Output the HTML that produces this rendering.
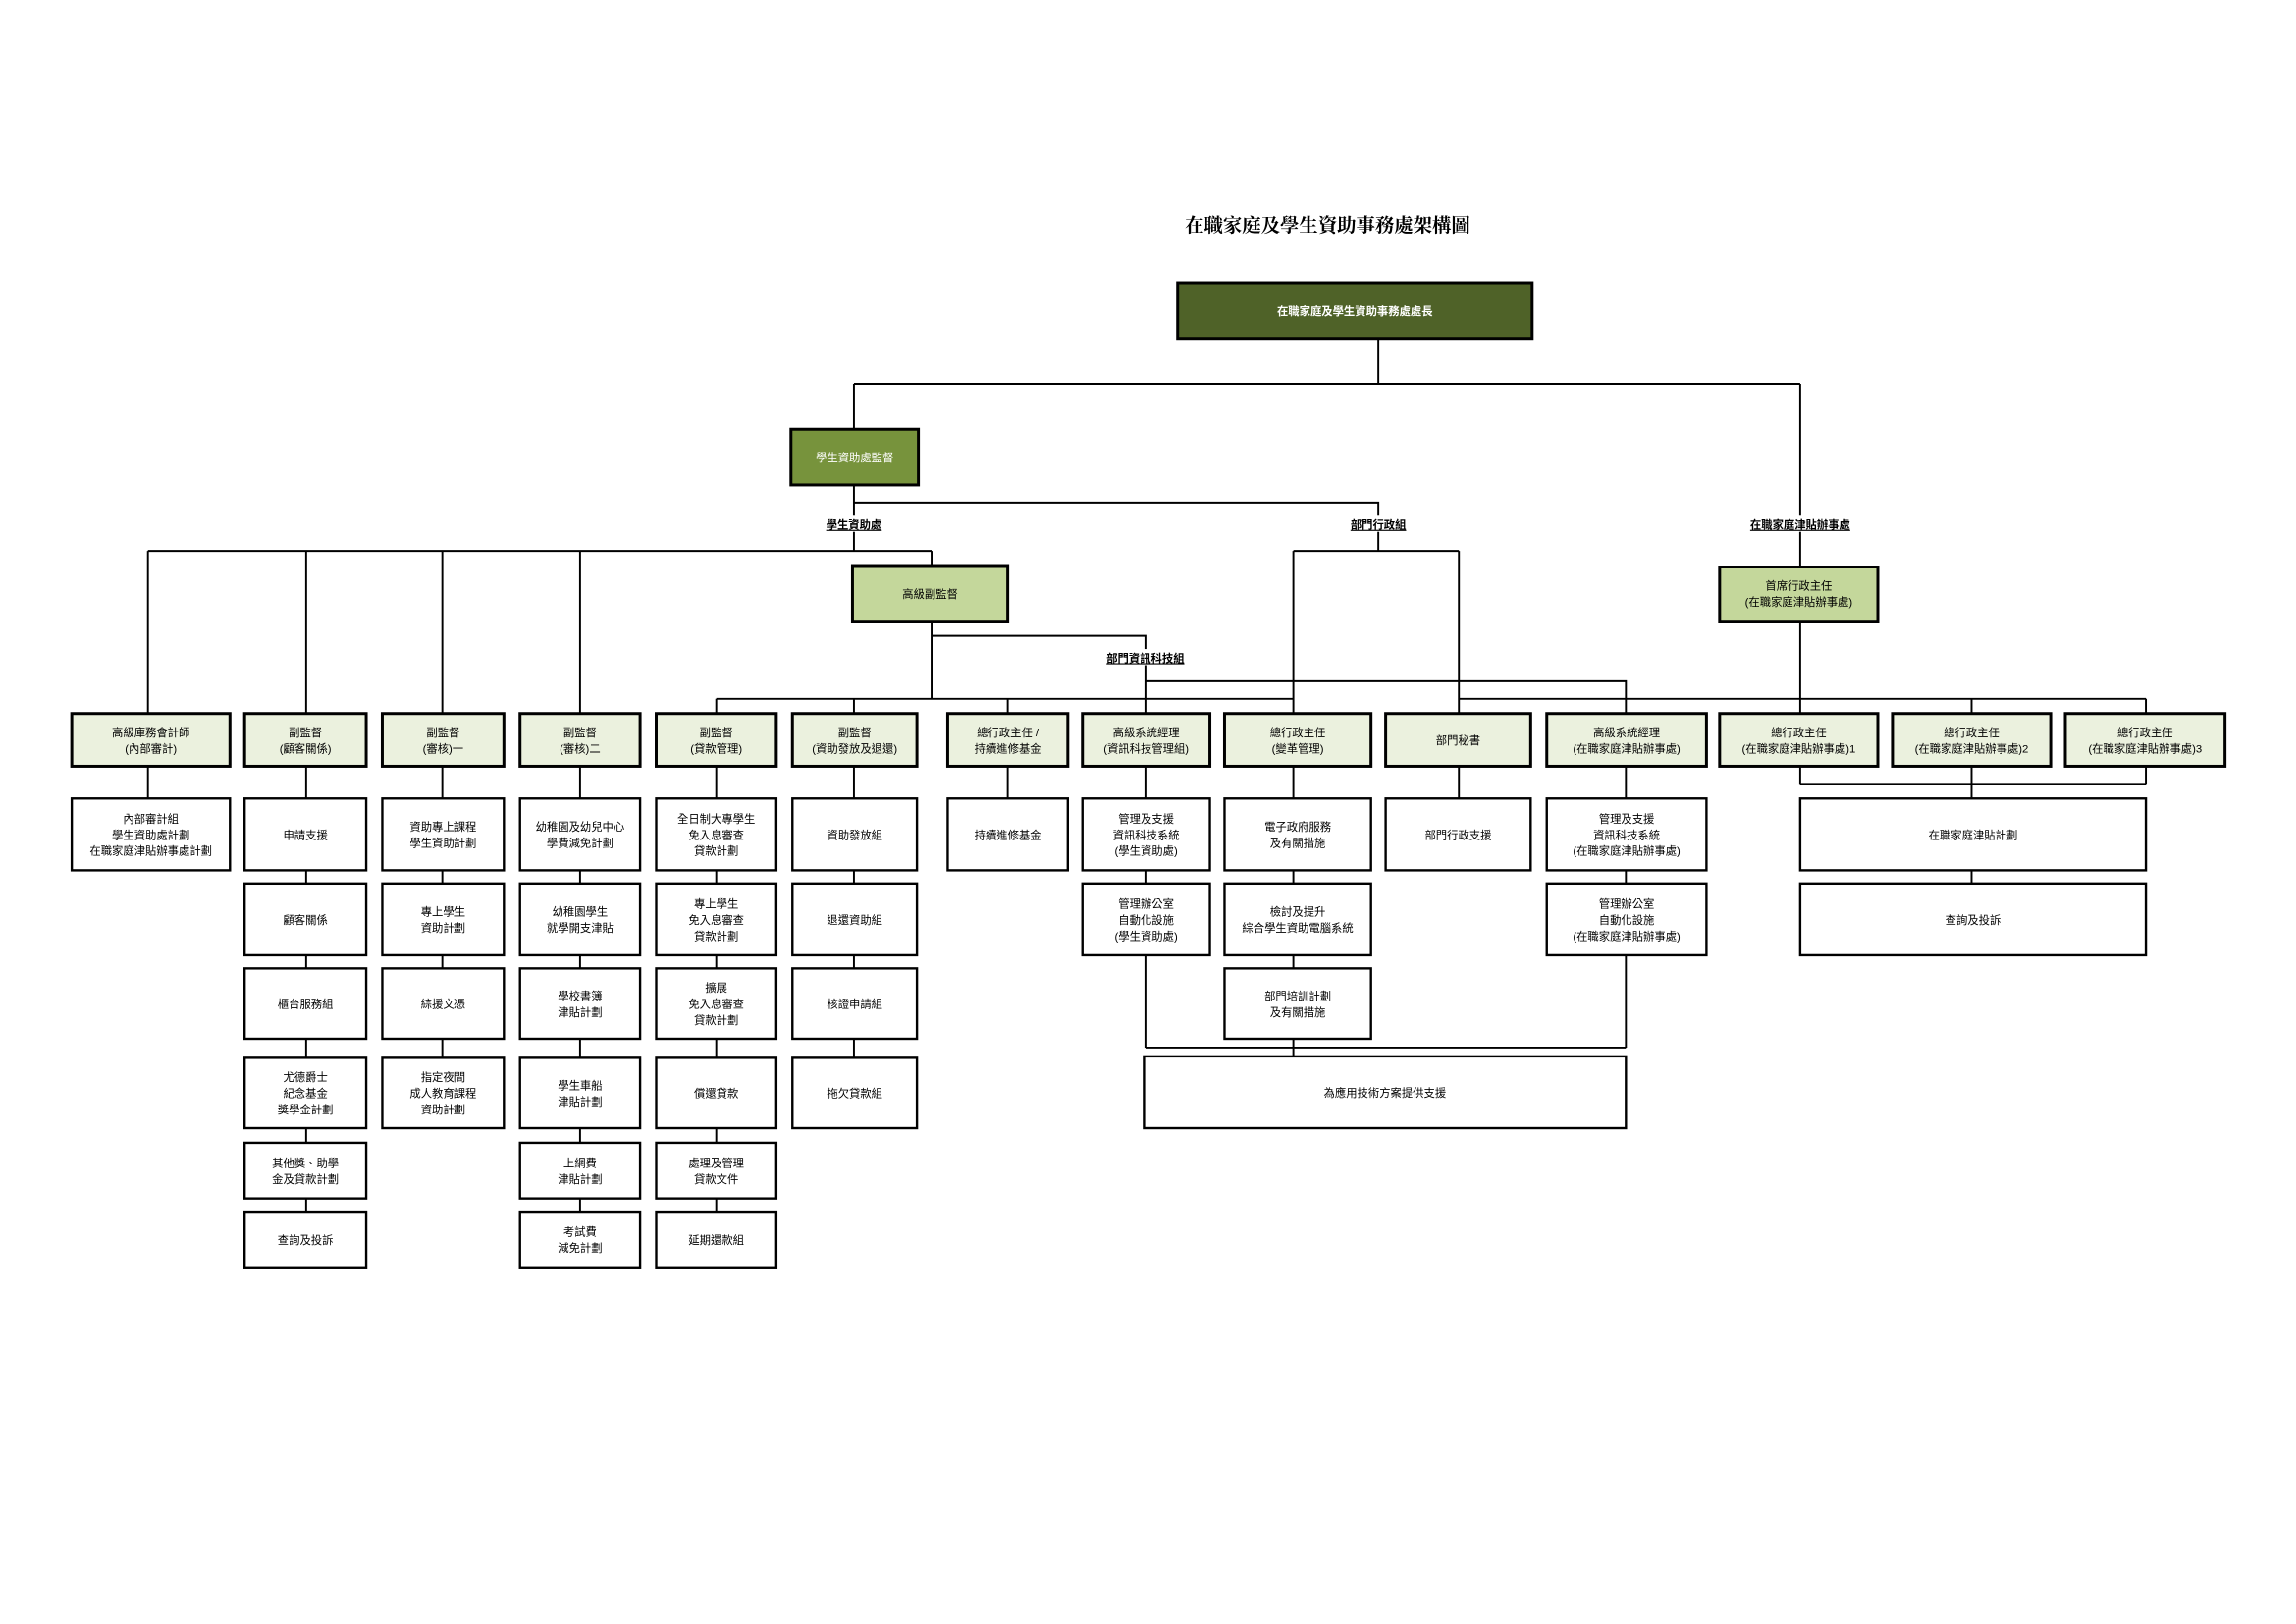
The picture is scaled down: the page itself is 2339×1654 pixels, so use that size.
<!DOCTYPE html>
<html><head><meta charset="utf-8"><style>
html,body{margin:0;padding:0;background:#fff;}
svg{display:block;}
text{font-family:"Liberation Sans","Noto Sans CJK TC",sans-serif;font-size:7.6px;text-anchor:middle;fill:#000;}
.t{font-family:"Liberation Serif","Noto Serif CJK SC",serif;font-size:13px;font-weight:bold;text-anchor:start;}
.lb{font-weight:bold;font-size:7.6px;text-decoration:underline;}
.w{fill:#fff;}
.L{stroke:#000;stroke-width:1.3;fill:none;}
.h{fill:#ebf1de;stroke:#000;stroke-width:2;}
.b{fill:#fff;stroke:#000;stroke-width:1.6;}
</style></head><body>
<svg width="2339" height="1654" viewBox="0 0 1567.5 1108.4" xmlns="http://www.w3.org/2000/svg">
<text class="t" x="809" y="158">在職家庭及學生資助事務處架構圖</text>
<path class="L" d="M941 231V262M583 262H1229M583 262V293M1229 262V387
M583 331V376M583 343H941V376M883 376H996M883 376V487M996 376V487
M101 376H636M101 376V487M209 376V487M302 376V487M396 376V487M636 376V386
M636 424V477M636 434H782V487M782 465H1110V487
M489 477H883M996 477H1465M489 477V487M583 477V487M688 477V487M1346 477V487M1465 477V487M1229 424V487
M101 523V545M209 523V827M302 523V722M396 523V827M489 523V827M583 523V722M688 523V545M782 523V715M883 523V721M996 523V545M1110 523V715M782 715H1110
M1229 523V535M1346 523V545M1465 523V535M1229 535H1465M1346 594V603"/>
<rect x="556" y="352" width="54" height="11" fill="#fff"/><text class="lb" x="583" y="361">學生資助處</text>
<rect x="914" y="352" width="54" height="11" fill="#fff"/><text class="lb" x="941" y="361">部門行政組</text>
<rect x="1184" y="352" width="90" height="11" fill="#fff"/><text class="lb" x="1229" y="361">在職家庭津貼辦事處</text>
<rect x="748" y="443" width="68" height="11" fill="#fff"/><text class="lb" x="782" y="452">部門資訊科技組</text>
<rect x="804" y="193" width="242" height="38" fill="#4f6228" stroke="#000" stroke-width="2"/>
<text class="w" x="925" y="215" style="font-weight:bold">在職家庭及學生資助事務處處長</text>
<rect x="540" y="293" width="87" height="38" fill="#77933c" stroke="#000" stroke-width="2"/>
<text class="w" x="583.5" y="315">學生資助處監督</text>
<rect x="582" y="386" width="106" height="38" fill="#c4d79b" stroke="#000" stroke-width="2"/>
<text x="635" y="408">高級副監督</text>
<rect x="1174" y="387" width="108" height="37" fill="#c4d79b" stroke="#000" stroke-width="2"/>
<text x="1228" y="402.5">首席行政主任</text><text x="1228" y="413.5">(在職家庭津貼辦事處)</text>
<rect class="h" x="49" y="487" width="108" height="36"/><text x="103" y="502.5">高級庫務會計師</text><text x="103" y="513.5">(內部審計)</text>
<rect class="h" x="167" y="487" width="83" height="36"/><text x="208.5" y="502.5">副監督</text><text x="208.5" y="513.5">(顧客關係)</text>
<rect class="h" x="261" y="487" width="83" height="36"/><text x="302.5" y="502.5">副監督</text><text x="302.5" y="513.5">(審核)一</text>
<rect class="h" x="355" y="487" width="82" height="36"/><text x="396" y="502.5">副監督</text><text x="396" y="513.5">(審核)二</text>
<rect class="h" x="448" y="487" width="82" height="36"/><text x="489" y="502.5">副監督</text><text x="489" y="513.5">(貸款管理)</text>
<rect class="h" x="541" y="487" width="85" height="36"/><text x="583.5" y="502.5">副監督</text><text x="583.5" y="513.5">(資助發放及退還)</text>
<rect class="h" x="647" y="487" width="82" height="36"/><text x="688" y="502.5">總行政主任 /</text><text x="688" y="513.5">持續進修基金</text>
<rect class="h" x="739" y="487" width="87" height="36"/><text x="782.5" y="502.5">高級系統經理</text><text x="782.5" y="513.5">(資訊科技管理組)</text>
<rect class="h" x="836" y="487" width="100" height="36"/><text x="886" y="502.5">總行政主任</text><text x="886" y="513.5">(變革管理)</text>
<rect class="h" x="946" y="487" width="99" height="36"/><text x="995.5" y="508">部門秘書</text>
<rect class="h" x="1056" y="487" width="109" height="36"/><text x="1110.5" y="502.5">高級系統經理</text><text x="1110.5" y="513.5">(在職家庭津貼辦事處)</text>
<rect class="h" x="1174" y="487" width="108" height="36"/><text x="1228" y="502.5">總行政主任</text><text x="1228" y="513.5">(在職家庭津貼辦事處)1</text>
<rect class="h" x="1292" y="487" width="108" height="36"/><text x="1346" y="502.5">總行政主任</text><text x="1346" y="513.5">(在職家庭津貼辦事處)2</text>
<rect class="h" x="1410" y="487" width="109" height="36"/><text x="1464.5" y="502.5">總行政主任</text><text x="1464.5" y="513.5">(在職家庭津貼辦事處)3</text>
<rect class="b" x="49" y="545" width="108" height="49"/><text x="103" y="561.5">內部審計組</text><text x="103" y="572.5">學生資助處計劃</text><text x="103" y="583.5">在職家庭津貼辦事處計劃</text>
<rect class="b" x="167" y="545" width="83" height="49"/><text x="208.5" y="572.5">申請支援</text>
<rect class="b" x="167" y="603" width="83" height="49"/><text x="208.5" y="630.5">顧客關係</text>
<rect class="b" x="167" y="661" width="83" height="48"/><text x="208.5" y="688">櫃台服務組</text>
<rect class="b" x="167" y="722" width="83" height="48"/><text x="208.5" y="738">尤德爵士</text><text x="208.5" y="749">紀念基金</text><text x="208.5" y="760">獎學金計劃</text>
<rect class="b" x="167" y="780" width="83" height="38"/><text x="208.5" y="796.5">其他獎、助學</text><text x="208.5" y="807.5">金及貸款計劃</text>
<rect class="b" x="167" y="827" width="83" height="38"/><text x="208.5" y="849">查詢及投訴</text>
<rect class="b" x="261" y="545" width="83" height="49"/><text x="302.5" y="567">資助專上課程</text><text x="302.5" y="578">學生資助計劃</text>
<rect class="b" x="261" y="603" width="83" height="49"/><text x="302.5" y="625">專上學生</text><text x="302.5" y="636">資助計劃</text>
<rect class="b" x="261" y="661" width="83" height="48"/><text x="302.5" y="688">綜援文憑</text>
<rect class="b" x="261" y="722" width="83" height="48"/><text x="302.5" y="738">指定夜間</text><text x="302.5" y="749">成人教育課程</text><text x="302.5" y="760">資助計劃</text>
<rect class="b" x="355" y="545" width="82" height="49"/><text x="396" y="567">幼稚園及幼兒中心</text><text x="396" y="578">學費減免計劃</text>
<rect class="b" x="355" y="603" width="82" height="49"/><text x="396" y="625">幼稚園學生</text><text x="396" y="636">就學開支津貼</text>
<rect class="b" x="355" y="661" width="82" height="48"/><text x="396" y="682.5">學校書簿</text><text x="396" y="693.5">津貼計劃</text>
<rect class="b" x="355" y="722" width="82" height="48"/><text x="396" y="743.5">學生車船</text><text x="396" y="754.5">津貼計劃</text>
<rect class="b" x="355" y="780" width="82" height="38"/><text x="396" y="796.5">上網費</text><text x="396" y="807.5">津貼計劃</text>
<rect class="b" x="355" y="827" width="82" height="38"/><text x="396" y="843.5">考試費</text><text x="396" y="854.5">減免計劃</text>
<rect class="b" x="448" y="545" width="82" height="49"/><text x="489" y="561.5">全日制大專學生</text><text x="489" y="572.5">免入息審查</text><text x="489" y="583.5">貸款計劃</text>
<rect class="b" x="448" y="603" width="82" height="49"/><text x="489" y="619.5">專上學生</text><text x="489" y="630.5">免入息審查</text><text x="489" y="641.5">貸款計劃</text>
<rect class="b" x="448" y="661" width="82" height="48"/><text x="489" y="677">擴展</text><text x="489" y="688">免入息審查</text><text x="489" y="699">貸款計劃</text>
<rect class="b" x="448" y="722" width="82" height="48"/><text x="489" y="749">償還貸款</text>
<rect class="b" x="448" y="780" width="82" height="38"/><text x="489" y="796.5">處理及管理</text><text x="489" y="807.5">貸款文件</text>
<rect class="b" x="448" y="827" width="82" height="38"/><text x="489" y="849">延期還款組</text>
<rect class="b" x="541" y="545" width="85" height="49"/><text x="583.5" y="572.5">資助發放組</text>
<rect class="b" x="541" y="603" width="85" height="49"/><text x="583.5" y="630.5">退還資助組</text>
<rect class="b" x="541" y="661" width="85" height="48"/><text x="583.5" y="688">核證申請組</text>
<rect class="b" x="541" y="722" width="85" height="48"/><text x="583.5" y="749">拖欠貸款組</text>
<rect class="b" x="647" y="545" width="82" height="49"/><text x="688" y="572.5">持續進修基金</text>
<rect class="b" x="739" y="545" width="87" height="49"/><text x="782.5" y="561.5">管理及支援</text><text x="782.5" y="572.5">資訊科技系統</text><text x="782.5" y="583.5">(學生資助處)</text>
<rect class="b" x="739" y="603" width="87" height="49"/><text x="782.5" y="619.5">管理辦公室</text><text x="782.5" y="630.5">自動化設施</text><text x="782.5" y="641.5">(學生資助處)</text>
<rect class="b" x="836" y="545" width="100" height="49"/><text x="886" y="567">電子政府服務</text><text x="886" y="578">及有關措施</text>
<rect class="b" x="836" y="603" width="100" height="49"/><text x="886" y="625">檢討及提升</text><text x="886" y="636">綜合學生資助電腦系統</text>
<rect class="b" x="836" y="661" width="100" height="48"/><text x="886" y="682.5">部門培訓計劃</text><text x="886" y="693.5">及有關措施</text>
<rect class="b" x="946" y="545" width="99" height="49"/><text x="995.5" y="572.5">部門行政支援</text>
<rect class="b" x="1056" y="545" width="109" height="49"/><text x="1110.5" y="561.5">管理及支援</text><text x="1110.5" y="572.5">資訊科技系統</text><text x="1110.5" y="583.5">(在職家庭津貼辦事處)</text>
<rect class="b" x="1056" y="603" width="109" height="49"/><text x="1110.5" y="619.5">管理辦公室</text><text x="1110.5" y="630.5">自動化設施</text><text x="1110.5" y="641.5">(在職家庭津貼辦事處)</text>
<rect class="b" x="781" y="721" width="329" height="49"/><text x="945.5" y="748.5">為應用技術方案提供支援</text>
<rect class="b" x="1229" y="545" width="236" height="49"/><text x="1347" y="572.5">在職家庭津貼計劃</text>
<rect class="b" x="1229" y="603" width="236" height="49"/><text x="1347" y="630.5">查詢及投訴</text>
</svg>
</body></html>
